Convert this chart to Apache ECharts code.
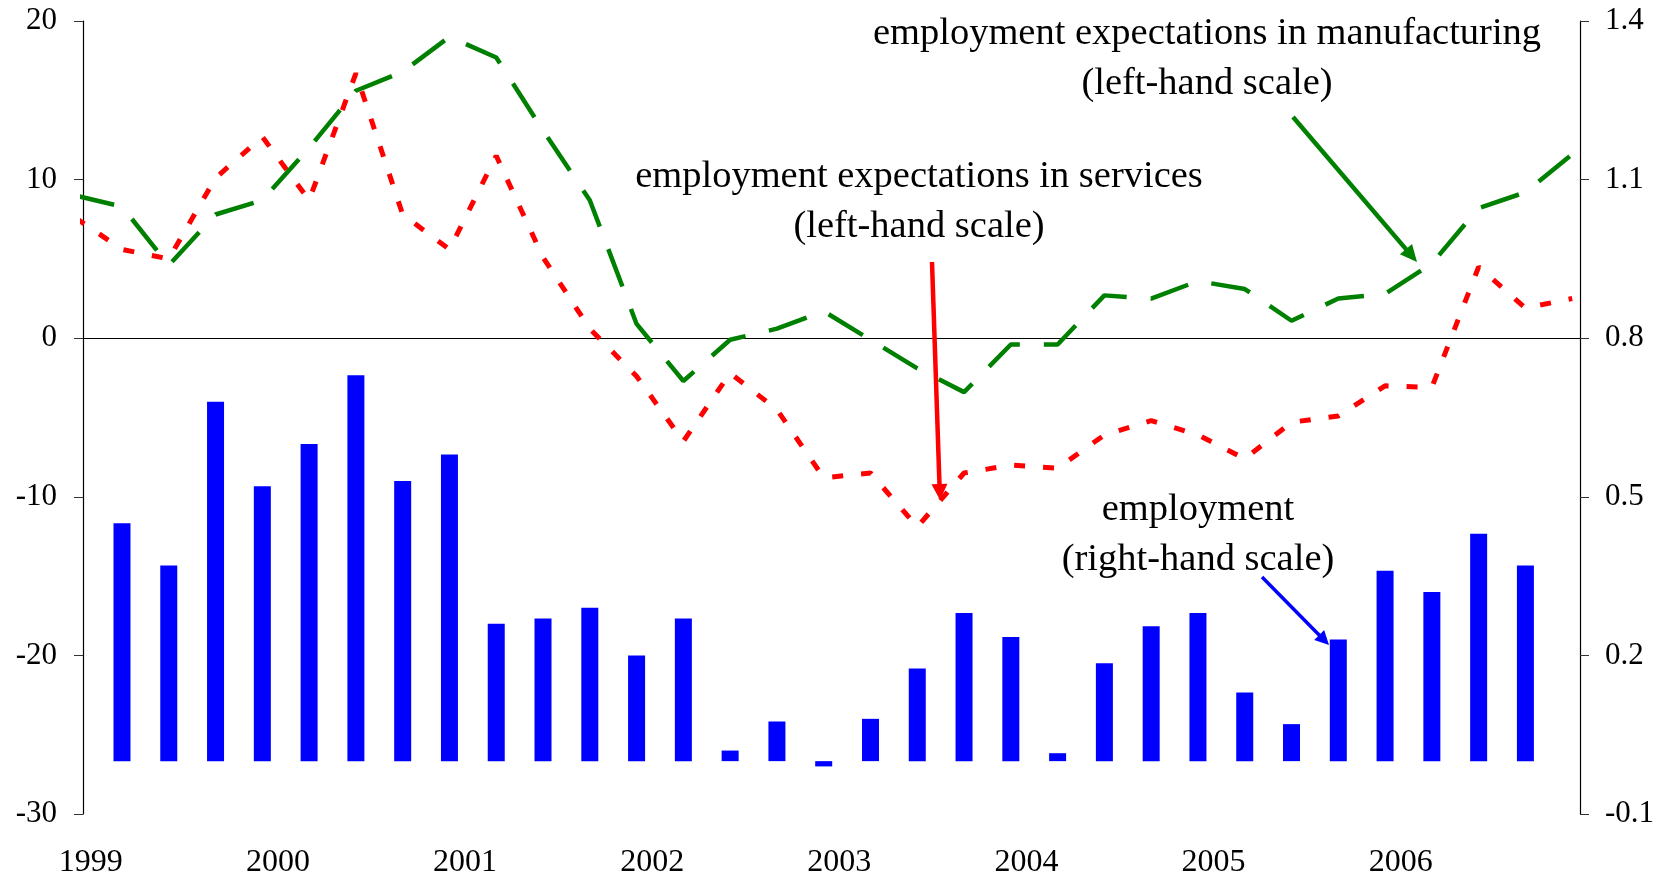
<!DOCTYPE html>
<html>
<head>
<meta charset="utf-8">
<title>Employment and employment expectations</title>
<script src="https://cdn.jsdelivr.net/npm/echarts@6/dist/echarts.min.js"></script>
<style>
  html, body { margin: 0; padding: 0; background: #fff; }
  #chart { width: 1659px; height: 879px; }
</style>
</head>
<body>
<div id="chart"></div>
<script>
var years = ['1999', '2000', '2001', '2002', '2003', '2004', '2005', '2006'];

var quarters = [
  '1998Q4',
  '1999Q1', '1999Q2', '1999Q3', '1999Q4',
  '2000Q1', '2000Q2', '2000Q3', '2000Q4',
  '2001Q1', '2001Q2', '2001Q3', '2001Q4',
  '2002Q1', '2002Q2', '2002Q3', '2002Q4',
  '2003Q1', '2003Q2', '2003Q3', '2003Q4',
  '2004Q1', '2004Q2', '2004Q3', '2004Q4',
  '2005Q1', '2005Q2', '2005Q3', '2005Q4',
  '2006Q1', '2006Q2', '2006Q3', '2006Q4'
];

// left-hand scale, 1998Q4 - 2006Q4
var manufacturing = [9.0, 8.3, 4.6, 7.8, 8.7, 12.0, 15.6, 16.8, 19.0, 17.7, 13.1, 8.7, 0.9, -2.7, -0.1, 0.6, 1.7,
  -0.1, -1.9, -3.4, -0.4, -0.4, 2.7, 2.5, 3.6, 3.1, 1.1, 2.5, 2.8, 4.7, 8.2, 9.2, 11.6];
var services = [7.6, 5.6, 5.0, 10.1, 12.7, 8.7, 16.7, 7.8, 5.6, 11.5, 5.1, 0.6, -2.4, -6.5, -2.2, -4.5, -8.8,
  -8.5, -11.9, -8.5, -8.0, -8.2, -6.1, -5.2, -6.1, -7.6, -5.3, -4.9, -3.0, -3.1, 4.5, 1.9, 2.5];

// right-hand scale, 1999Q1 - 2006Q3
var employment = [0.45, 0.37, 0.68, 0.52, 0.60, 0.73, 0.53, 0.58, 0.26, 0.27, 0.29, 0.20, 0.27, 0.02, 0.075,
  -0.01, 0.08, 0.175, 0.28, 0.235, 0.015, 0.185, 0.255, 0.28, 0.13, 0.07, 0.23, 0.36, 0.32, 0.43, 0.37];

var FONT = '"Liberation Serif", "Times New Roman", serif';

// months since Jan 1999, at the middle of the last month of the quarter
function quarterPos(label) {
  var y = parseInt(label.slice(0, 4), 10);
  var q = parseInt(label.slice(5), 10);
  return (y - 1999) * 12 + q * 3 - 0.5;
}

function pairs(values, first) {
  var start = quarters.indexOf(first);
  return values.map(function (v, i) { return [quarterPos(quarters[start + i]), v]; });
}

var months = [];
years.forEach(function (y) {
  for (var m = 1; m <= 12; m++) months.push(y + '-' + (m < 10 ? '0' + m : m));
});

function arrow(x1, y1, x2, y2, color, width, headLen, headHalf) {
  var dx = x2 - x1, dy = y2 - y1;
  var len = Math.sqrt(dx * dx + dy * dy);
  var ux = dx / len, uy = dy / len;
  var bx = x2 - ux * headLen, by = y2 - uy * headLen;
  return [
    { type: 'line', z: 100, shape: { x1: x1, y1: y1, x2: bx + ux * 2, y2: by + uy * 2 },
      style: { stroke: color, lineWidth: width } },
    { type: 'polygon', z: 100,
      shape: { points: [[x2, y2], [bx - uy * headHalf, by + ux * headHalf], [bx + uy * headHalf, by - ux * headHalf]] },
      style: { fill: color } }
  ];
}

function label(text, x, y) {
  return {
    type: 'text', z: 100, x: x, y: y,
    style: {
      text: text, fill: '#000', font: '38.5px ' + FONT, lineHeight: 50,
      align: 'center', verticalAlign: 'middle', textAlign: 'center', textVerticalAlign: 'middle'
    }
  };
}

var chart = echarts.init(document.getElementById('chart'));

chart.setOption({
  animation: false,
  backgroundColor: '#fff',
  grid: { left: 83, right: 79, top: 21, bottom: 63 },
  xAxis: [
    {
      // zero line with year ticks
      type: 'category', data: months, position: 'bottom',
      axisLine: { onZero: true, onZeroAxisIndex: 0, lineStyle: { color: '#000', width: 1.2 } },
      axisTick: { interval: 11, length: 9, lineStyle: { color: '#333', width: 1 } },
      axisLabel: { show: false },
      splitLine: { show: false }
    },
    {
      // year labels at the bottom
      type: 'category', data: months, position: 'bottom',
      axisLine: { show: false, onZero: false },
      axisTick: { show: false },
      axisLabel: {
        interval: 11, margin: 33, color: '#000', fontFamily: FONT, fontSize: 32,
        formatter: function (v) { return v.slice(0, 4); }
      },
      splitLine: { show: false }
    },
    {
      type: 'value', show: false, min: 0, max: 96, position: 'top',
      axisLine: { onZero: false }, splitLine: { show: false }
    }
  ],
  yAxis: [
    {
      type: 'value', position: 'left', min: -30, max: 20, interval: 10,
      axisLine: { show: true, onZero: false, lineStyle: { color: '#000', width: 1.2 } },
      axisTick: { show: true, length: 9, lineStyle: { color: '#333' } },
      axisLabel: { margin: 26, color: '#000', fontFamily: FONT, fontSize: 31 },
      splitLine: { show: false }
    },
    {
      type: 'value', position: 'right', min: -0.1, max: 1.4, interval: 0.3,
      axisLine: { show: true, onZero: false, lineStyle: { color: '#000', width: 1.2 } },
      axisTick: { show: true, length: 9, lineStyle: { color: '#333' } },
      axisLabel: {
        margin: 25, color: '#000', fontFamily: FONT, fontSize: 31,
        formatter: function (v) { return v.toFixed(1); }
      },
      splitLine: { show: false }
    }
  ],
  series: [
    {
      name: 'employment', type: 'bar', xAxisIndex: 2, yAxisIndex: 1,
      data: pairs(employment, '1999Q1'), barWidth: 17, clip: true,
      itemStyle: { color: '#0000ff' }
    },
    {
      name: 'employment expectations in services', type: 'line', xAxisIndex: 2, yAxisIndex: 0,
      data: pairs(services, '1998Q4'), symbol: 'none', clip: true,
      lineStyle: { color: '#ff0000', width: 5, type: [11, 18] }
    },
    {
      name: 'employment expectations in manufacturing', type: 'line', xAxisIndex: 2, yAxisIndex: 0,
      data: pairs(manufacturing, '1998Q4'), symbol: 'none', clip: true,
      lineStyle: { color: '#008000', width: 4.5, type: [40, 24] }
    }
  ],
  graphic: [].concat(
    [
      label('employment expectations in manufacturing\n(left-hand scale)', 1207, 59),
      label('employment expectations in services\n(left-hand scale)', 919, 202),
      label('employment\n(right-hand scale)', 1198, 535)
    ],
    arrow(1293, 117, 1417, 262, '#008000', 4.5, 17, 8),
    arrow(932, 262, 940, 500, '#ff0000', 4.5, 16, 8),
    arrow(1262, 577, 1329, 645, '#0000ff', 3.5, 14, 7)
  )
});
</script>
</body>
</html>
